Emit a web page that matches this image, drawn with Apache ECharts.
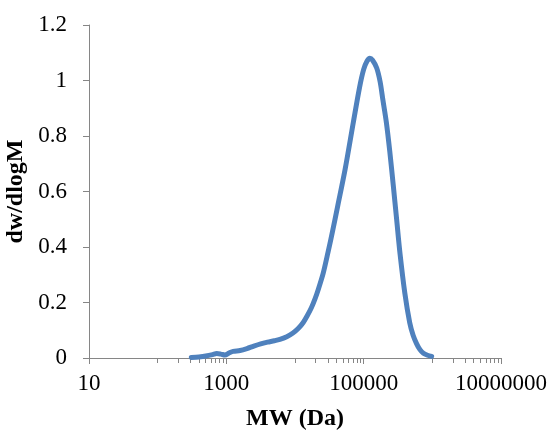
<!DOCTYPE html>
<html><head><meta charset="utf-8">
<script src="https://cdn.jsdelivr.net/npm/echarts@6/dist/echarts.min.js"></script>
<style>html,body{margin:0;padding:0;background:#fff}#c{width:553px;height:431px}</style>
</head><body><div id="c"></div>
<script>
const molWeight = [309,398,501,631,724,832,955,1096,1259,1585,1995,2512,3162,3981,5012,6026,7586,9333,11220,13183,15136,17378,19498,21878,25704,30200,35481,41687,53703,70795,87096,100000,112202,123027,134896,154882,173780,190546,213796,239883,269153,301995,338844,398107,467735,524807,588844,660693,741310,851138,977237];
const dwdlogM = [0.002,0.004,0.007,0.012,0.016,0.014,0.011,0.018,0.024,0.027,0.034,0.043,0.051,0.057,0.062,0.067,0.077,0.090,0.107,0.128,0.153,0.182,0.212,0.248,0.305,0.380,0.460,0.545,0.680,0.850,0.975,1.040,1.070,1.080,1.073,1.045,0.995,0.930,0.850,0.745,0.625,0.500,0.375,0.233,0.128,0.082,0.052,0.030,0.017,0.010,0.006];
const xMajorTicks = [10,1000,100000,10000000];
const xTickLabels = ['10','1000','100000','10000000'];
const xMinorTicks = [100,200,300,400,500,600,700,800,900,10000,20000,30000,40000,50000,60000,70000,80000,90000,1000000,2000000,3000000,4000000,5000000,6000000,7000000,8000000,9000000];
const yTicks = [0,0.2,0.4,0.6,0.8,1,1.2];

const axisColor = '#868686';
const font = '"Liberation Serif","DejaVu Serif",serif';
const chart = echarts.init(document.getElementById('c'));
chart.setOption({
  animation:false,
  grid:{left:89,right:52,top:25,bottom:73,containLabel:false,outerBoundsMode:'none'},
  xAxis:[{
    type:'log', logBase:10, min:10, max:10000000,
    name:'MW (Da)', nameLocation:'middle', nameGap:49,
    nameTextStyle:{fontFamily:font,fontWeight:'bold',fontSize:24,color:'#000'},
    axisLine:{lineStyle:{color:axisColor,width:1}},
    axisTick:{show:true,length:6,inside:false,customValues:xMajorTicks,lineStyle:{color:axisColor}},
    axisLabel:{customValues:xMajorTicks,margin:14,fontFamily:font,fontSize:23,color:'#000',
      formatter:function(v){const i=xMajorTicks.findIndex(t=>Math.abs(Math.log10(t)-Math.log10(v))<1e-6);return i>=0?xTickLabels[i]:'';}},
    splitLine:{show:false}, minorTick:{show:false}
  },{
    type:'log', logBase:10, min:10, max:10000000, position:'bottom',
    axisLine:{show:false},
    axisTick:{show:true,length:5,inside:false,customValues:xMinorTicks,lineStyle:{color:axisColor}},
    axisLabel:{show:false}, splitLine:{show:false}
  }],
  yAxis:{
    type:'value', min:0, max:1.2, interval:0.2,
    name:'dw/dlogM', nameLocation:'middle', nameGap:61, nameRotate:90,
    nameTextStyle:{fontFamily:font,fontWeight:'bold',fontSize:24,color:'#000'},
    axisLine:{show:true,lineStyle:{color:axisColor,width:1}},
    axisTick:{show:true,length:6,inside:false,lineStyle:{color:axisColor}},
    axisLabel:{margin:22,fontFamily:font,fontSize:23,color:'#000',
      formatter:function(v){return String(Math.round(v*10)/10);}},
    splitLine:{show:false}
  },
  series:[{
    type:'line', xAxisIndex:0,
    data:molWeight.map((m,i)=>[m,dwdlogM[i]]),
    showSymbol:false, smooth:0.3,
    lineStyle:{color:'#4F81BD',width:5,cap:'round',join:'round'}
  }]
});
</script></body></html>
